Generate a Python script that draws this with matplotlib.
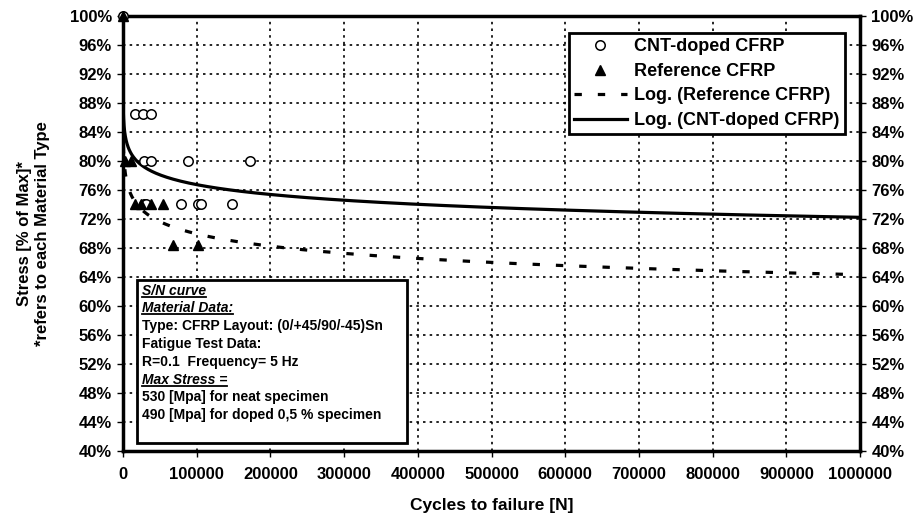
import matplotlib.pyplot as plt
import numpy as np

plt.rcParams['font.family'] = ['Liberation Sans', 'DejaVu Sans']
plt.rcParams['font.weight'] = 'bold'
plt.rcParams['axes.labelweight'] = 'bold'

# data (cycles, stress in % of max)
cnt_cycles = [1, 17000, 27500, 37500, 29000, 38000, 88500, 173000,
              28000, 32000, 79500, 102000, 105500, 147500]
cnt_stress = [100, 86.5, 86.5, 86.5, 80, 80, 80, 80,
              74.1, 74.1, 74.1, 74.1, 74.1, 74.1]
ref_cycles = [1, 2500, 10500, 16000, 24000, 38000, 54000, 67500, 101500]
ref_stress = [100, 80, 80, 74.1, 74.1, 74.1, 74.1, 68.4, 68.4]

# log trendlines y = a - b*ln(x), coefficients
cnt_trend = (99.3, 1.96)
ref_trend = (98.15, 2.45)

y_ticks = list(range(40, 101, 4))
x_ticks = list(range(0, 1000001, 100000))

box_lines = ["S/N curve", "Material Data:", "Type: CFRP Layout: (0/+45/90/-45)Sn",
             "Fatigue Test Data:", "R=0.1  Frequency= 5 Hz", "Max Stress =",
             "530 [Mpa] for neat specimen", "490 [Mpa] for doped 0,5 % specimen"]
underlined = [0, 1, 5]

fig = plt.figure(figsize=(9.17, 5.17), dpi=100)
ax = fig.add_axes([0.134, 0.128, 0.804, 0.841])

xs = np.logspace(0, 6, 500)
ax.plot(cnt_cycles, cnt_stress, 'o', mfc='white', mec='black', ms=6.8, mew=1.1,
        label='CNT-doped CFRP', zorder=4, clip_on=False)
ax.plot(ref_cycles, ref_stress, '^', color='black', ms=7.8, label='Reference CFRP',
        zorder=4, clip_on=False)
ax.plot(xs, ref_trend[0] - ref_trend[1] * np.log(xs), color='black', lw=2.3,
        ls=(0, (2.3, 5)), label='Log. (Reference CFRP)', zorder=3)
ax.plot(xs, cnt_trend[0] - cnt_trend[1] * np.log(xs), color='black', lw=2.3,
        label='Log. (CNT-doped CFRP)', zorder=3)

ax.set_xlim(0, 1000000)
ax.set_ylim(40, 100)
ax.set_xticks(x_ticks)
ax.set_xticklabels([str(v) for v in x_ticks])
ax.set_yticks(y_ticks)
ax.set_yticklabels([f'{v}%' for v in y_ticks])
ax.tick_params(axis='both', labelsize=12, direction='out', length=4, width=1, pad=4)
ax.tick_params(axis='x', pad=8)
ax.tick_params(axis='y', right=True, labelright=True)
ax.grid(True, color='black', lw=1.2, ls=(0, (1.5, 2.5)))
for s in ax.spines.values():
    s.set_linewidth(2.5)
ax.set_axisbelow(True)

ax.set_xlabel('Cycles to failure [N]', fontsize=12.5, labelpad=11)
ax.set_ylabel('Stress [% of Max]*\n*refers to each Material Type', fontsize=12,
              labelpad=14, linespacing=1.25)

leg = ax.legend(loc='upper right', bbox_to_anchor=(0.979, 0.962), fontsize=13,
                fancybox=False, edgecolor='black', framealpha=1, handlelength=2.9,
                borderpad=0.3, labelspacing=0.42, handletextpad=0.4, borderaxespad=0,
                handleheight=0.6)
leg.get_frame().set_linewidth(2)

# info box
rect = plt.Rectangle((0.0186, 0.0177), 0.367, 0.375, transform=ax.transAxes,
                     facecolor='white', edgecolor='black', lw=2, zorder=5)
ax.add_patch(rect)
y0, dy = 451 - 290.7, 17.8
texts = []
for i, line in enumerate(box_lines):
    yc = (y0 - i * dy) / 435
    t = ax.text(0.0254, yc, line, transform=ax.transAxes, fontsize=10,
                va='center', ha='left', style='italic' if i in underlined else 'normal',
                zorder=6)
    texts.append(t)

fig.canvas.draw()
r = fig.canvas.get_renderer()
inv = ax.transAxes.inverted()
for i in underlined:
    bb = texts[i].get_window_extent(r)
    (x1, yb), (x2, _) = inv.transform([[bb.x0, bb.y0 + 1], [bb.x1, bb.y0]])
    ax.plot([x1, x2], [yb, yb], transform=ax.transAxes, color='black', lw=1.3,
            zorder=6, clip_on=False)

fig.savefig('out.png', dpi=100)
